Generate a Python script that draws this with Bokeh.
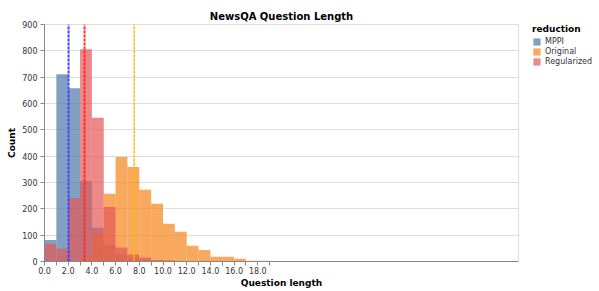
from bokeh.plotting import figure
from bokeh.models import Range1d, FixedTicker, Legend, LegendItem
from bokeh.embed import file_html
from bokeh.resources import INLINE

# ---- data ----
bin_edges = list(range(0, 21))
series_names = ["MPPI", "Original", "Regularized"]
mppi_counts = [82, 711, 658, 306, 128, 62, 28, 10, 5, 3, 2, 1, 0, 0, 0, 0, 0, 0, 0, 0]
original_counts = [0, 0, 2, 15, 108, 257, 397, 359, 272, 219, 143, 113, 60, 44, 18, 18, 10, 3, 3, 1]
regularized_counts = [67, 48, 241, 806, 546, 207, 53, 27, 15, 6, 5, 2, 1, 0, 0, 0, 0, 0, 0, 0]
mean_lengths = [2.03, 7.57, 3.38]
x_tick_values = list(range(0, 20))
y_tick_values = list(range(0, 1000, 100))

bar_colors = ["#4c78a8", "#f58518", "#e45756"]
mean_colors = ["#4040ff", "#ffb800", "#ff2a2a"]
mean_widths = [2, 1.5, 2]
FONT = "DejaVu Sans"

p = figure(frame_width=474, frame_height=237, x_range=Range1d(0, 40), y_range=Range1d(0, 900),
           output_backend="svg", toolbar_location=None, title="NewsQA Question Length",
           min_border_left=44, min_border_right=80, min_border_top=24, min_border_bottom=29)

p.title.align = "center"
p.title.text_font = FONT
p.title.text_font_size = "10px"
p.title.text_font_style = "bold"
p.title.text_color = "#000000"
p.title.standoff = 6
p.title.offset = 0

renderers = []
for counts, color in zip([mppi_counts, original_counts, regularized_counts], bar_colors):
    r = p.quad(left=bin_edges[:-1], right=bin_edges[1:], bottom=0, top=counts,
               fill_color=color, fill_alpha=0.7, line_color=None)
    renderers.append(r)

for m, c, w in zip(mean_lengths, mean_colors, mean_widths):
    p.segment(x0=[m], x1=[m], y0=[0], y1=[900], line_color=c, line_width=w,
              line_dash="3 1")

# axes
p.xaxis.ticker = FixedTicker(ticks=x_tick_values)
p.xaxis.major_label_overrides = {v: (f"{v:.1f}" if v % 2 == 0 else "") for v in x_tick_values}
p.yaxis.ticker = FixedTicker(ticks=y_tick_values)
p.xaxis.axis_label = "Question length"
p.yaxis.axis_label = "Count"
for ax in (p.xaxis, p.yaxis):
    ax.axis_line_color = "#888888"
    ax.major_tick_line_color = "#888888"
    ax.minor_tick_line_color = None
    ax.major_tick_in = 0
    ax.major_tick_out = 4
    ax.major_label_text_font = FONT
    ax.major_label_text_font_size = "8px"
    ax.major_label_text_color = "#333333"
    ax.axis_label_text_font = FONT
    ax.axis_label_text_font_size = "9px"
    ax.axis_label_text_font_style = "bold"
    ax.axis_label_text_color = "#000000"
p.xaxis.major_label_standoff = 1
p.xaxis.axis_label_standoff = 1
p.yaxis.major_label_standoff = 3
p.yaxis.axis_label_standoff = 2

p.xgrid.grid_line_color = None
p.ygrid.grid_line_color = "#dddddd"
p.outline_line_color = "#dddddd"

legend = Legend(items=[LegendItem(label=n, renderers=[r]) for n, r in zip(series_names, renderers)],
                title="reduction", location=(14, 195))
legend.title_text_font = FONT
legend.title_text_font_size = "9px"
legend.title_text_font_style = "bold"
legend.title_text_color = "#000000"
legend.title_standoff = 3
legend.label_text_font = FONT
legend.label_text_font_size = "8px"
legend.label_text_color = "#333333"
legend.glyph_width = 9
legend.glyph_height = 9
legend.label_height = 9
legend.label_standoff = 4
legend.spacing = 1
legend.padding = 0
legend.margin = 0
legend.border_line_color = None
legend.background_fill_alpha = 0
p.add_layout(legend, "right")

open("out.html", "w").write(file_html(p, INLINE))
